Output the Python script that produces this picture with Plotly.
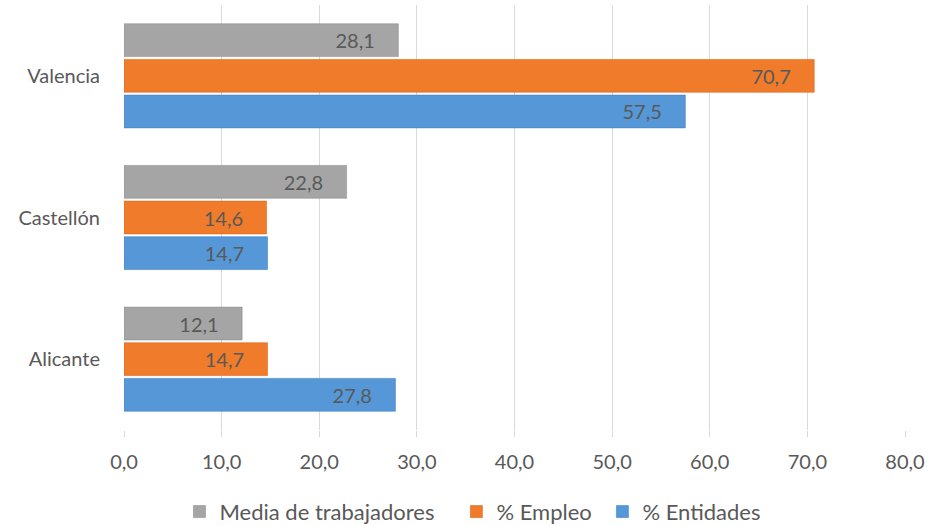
import plotly.graph_objects as go

categories = ["Alicante", "Castellón", "Valencia"]
entidades = [27.8, 14.7, 57.5]
empleo = [14.7, 14.6, 70.7]
media = [12.1, 22.8, 28.1]

series = [
    ("% Entidades", entidades, "#5597D7", "#4483C8"),
    ("% Empleo\u00a0", empleo, "#EF7B2B", "#DC681F"),
    ("Media de trabajadores\u00a0\u00a0\u00a0", media, "#A5A5A5", "#929292"),
]

fig = go.Figure()
for name, vals, color, edge in series:
    fig.add_trace(go.Bar(
        name=name, y=categories, x=vals, orientation="h",
        marker=dict(color=color, line=dict(color=edge, width=0.6)),
        texttemplate="%{x:.1f}\u00a0\u00a0\u00a0\u00a0",
        textposition="inside", insidetextanchor="end",
        textfont=dict(family="Lato, sans-serif", size=20, color="#595959"),
        cliponaxis=False,
    ))

fig.update_layout(
    width=929, height=526,
    barmode="group", bargap=0.245, bargroupgap=0.08,
    separators=",.",
    paper_bgcolor="white", plot_bgcolor="white",
    margin=dict(l=124, r=24, t=5, b=96, autoexpand=False),
    font=dict(family="Lato, sans-serif", color="#595959", size=20),
    showlegend=True,
    legend=dict(orientation="h", traceorder="reversed",
                x=0.071, xanchor="left",
                yref="container", y=0.027, yanchor="middle",
                font=dict(size=22, color="#595959"),
                itemwidth=30, tracegroupgap=0),
    xaxis=dict(range=[0, 80], dtick=10, tickformat=".1f", showgrid=True,
               gridcolor="#D9D9D9", gridwidth=1, zeroline=False,
               ticks="outside", ticklen=6, tickcolor="#D9D9D9",
               ticklabelstandoff=8, automargin=False,
               tickfont=dict(size=20, color="#595959"), showline=False),
    yaxis=dict(categoryorder="array", categoryarray=categories,
               tickfont=dict(size=20, color="#595959"), showline=False,
               ticks="", ticklabelstandoff=23, automargin=False),
)

fig.write_html(
    "out.html",
    config={"displayModeBar": False},
    post_script="document.body.style.margin='0';document.body.style.overflow='hidden';",
)
